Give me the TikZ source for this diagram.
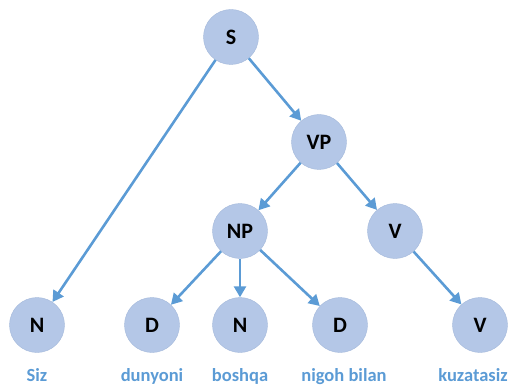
\documentclass[tikz,border=0pt]{standalone}
\usepackage{fontspec}
\setmainfont{Carlito}
\usepackage{tikz}
\usetikzlibrary{arrows.meta}
\definecolor{edgeblue}{HTML}{5B9BD5}
\definecolor{nodefill}{HTML}{B4C7E7}
\definecolor{nodeline}{HTML}{A3B8DA}

\begin{document}
\begin{tikzpicture}[x=1pt,y=-1pt,every node/.style={draw=nodeline,fill=nodefill,circle,minimum size=55pt,inner sep=0pt,font=\fontsize{22}{22}\selectfont\bfseries}]
	\useasboundingbox (0,0) rectangle (510,387);
	
	\node (s) at (231,37){S};
	\node (vp) at (319,142){VP};
	\node (np) at (240,231){NP};
	\node (v1) at (395,231){V};
	\node (n1) at (37,325){N};
	\node (d1) at (152,325){D};
	\node (n2) at (240,325){N};
	\node (d2) at (340,325){D};
	\node (v2) at (480,325){V};
	\begin{scope}[line width=2.6pt, draw=edgeblue, -{Triangle[length=11pt,width=12pt]}]
	%edges
	\draw (s) -- (n1);
	\draw (s) -- (vp);
	\draw (vp) -- (np);
	\draw (vp) -- (v1);
	\draw (np) -- (d1);
	\draw (np) -- (n2);
	\draw (np) -- (d2);
	\draw (v1) -- (v2);
	\end{scope}
	\begin{scope}[every node/.style={text=edgeblue,font=\fontsize{18.5}{18.5}\selectfont\bfseries,anchor=base,inner sep=0pt}]
	%words
	\node (w1) at (37,381){Siz};
	\node (w2) at (152,381){dunyoni};
	\node (w3) at (240,381){boshqa};
	\node (w4) at (344,381){nigoh bilan};
	\node (w5) at (473,381){kuzatasiz};
	\end{scope}
\end{tikzpicture}
\end{document}
